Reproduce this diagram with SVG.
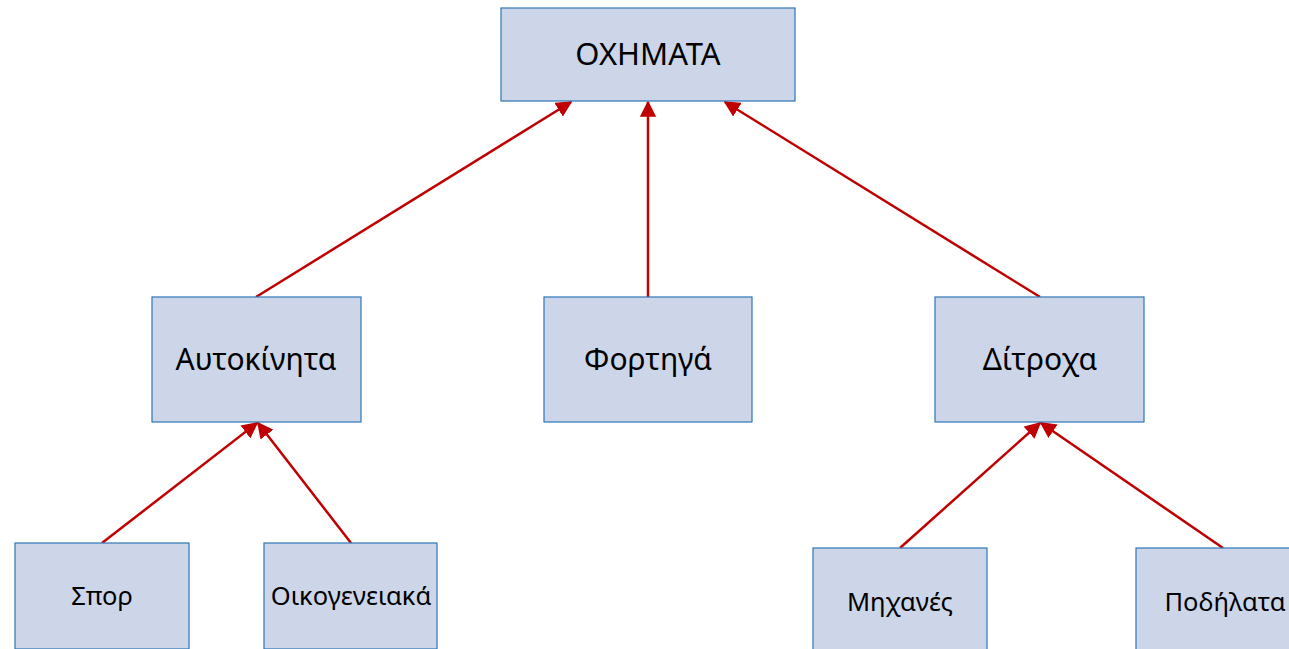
<svg xmlns="http://www.w3.org/2000/svg" width="1289" height="649" viewBox="0 0 1289 649">
<style>
.box{fill:#CDD6E9;stroke:#2E75B6;stroke-width:1.2}
.t{font-family:"Noto Sans","Open Sans",sans-serif;fill:#000;text-anchor:middle}
.top{font-size:31px}
.big{font-size:30px}
.small{font-size:25.5px}
.c{stroke:#C00000;stroke-width:2.5;fill:none;marker-end:url(#ah)}
</style>
<defs>
<marker id="ah" viewBox="0 0 10 10" refX="9" refY="5" markerWidth="6.5" markerHeight="6.5" markerUnits="strokeWidth" orient="auto">
<path d="M0,0 L10,5 L0,10 z" fill="#C00000"/>
</marker>
</defs>
<rect width="1289" height="649" fill="#fff"/>
<g id="connectors">
<line class="c" x1="256" y1="297" x2="571" y2="102"/>
<line class="c" x1="648" y1="297" x2="648" y2="102"/>
<line class="c" x1="1040" y1="297" x2="725" y2="102"/>
<line class="c" x1="102" y1="543" x2="257" y2="423"/>
<line class="c" x1="351" y1="543" x2="258" y2="423"/>
<line class="c" x1="900" y1="548" x2="1040" y2="423"/>
<line class="c" x1="1223" y1="548" x2="1041" y2="423"/>
</g>
<g id="n-oximata"><rect class="box" x="501" y="8" width="294" height="93"/><text class="t top" x="648" y="65">ΟΧΗΜΑΤΑ</text></g>
<g id="n-aytokinita"><rect class="box" x="152" y="297" width="209" height="125"/><text class="t big" x="256" y="370">Αυτοκίνητα</text></g>
<g id="n-fortiga"><rect class="box" x="544" y="297" width="208" height="125"/><text class="t big" x="648" y="370">Φορτηγά</text></g>
<g id="n-ditroxa"><rect class="box" x="935" y="297" width="209" height="125"/><text class="t big" x="1040" y="370">Δίτροχα</text></g>
<g id="n-spor"><rect class="box" x="15" y="543" width="174" height="106"/><text class="t small" x="102" y="605">Σπορ</text></g>
<g id="n-oikogeneiaka"><rect class="box" x="264" y="543" width="173" height="106"/><text class="t small" x="351" y="605">Οικογενειακά</text></g>
<g id="n-mixanes"><rect class="box" x="813" y="548" width="174" height="102"/><text class="t small" x="900" y="611">Μηχανές</text></g>
<g id="n-podilata"><rect class="box" x="1136" y="548" width="174" height="102"/><text class="t small" x="1225" y="611">Ποδήλατα</text></g>
</svg>
